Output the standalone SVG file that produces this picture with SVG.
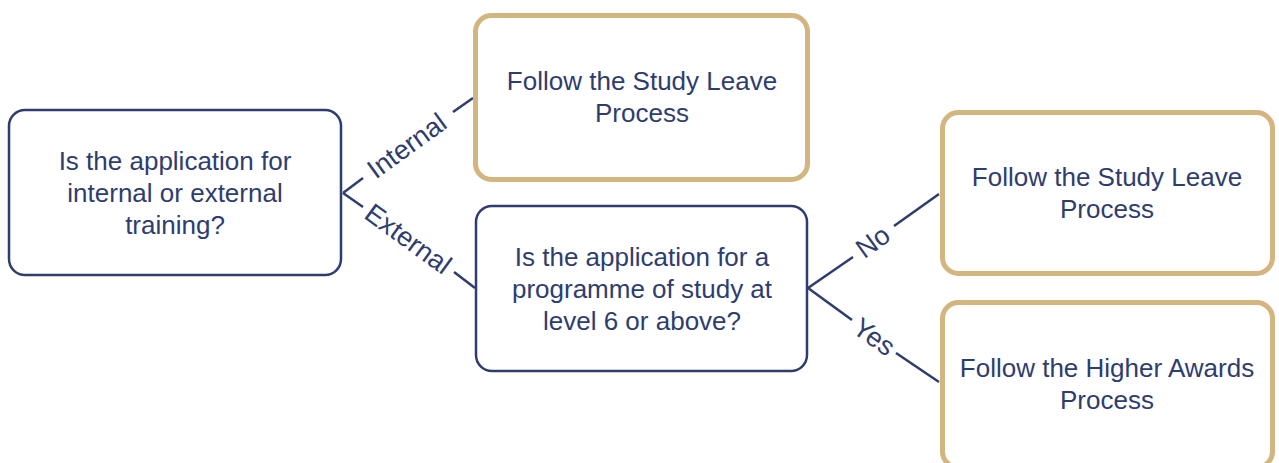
<svg xmlns="http://www.w3.org/2000/svg" width="1279" height="463" viewBox="0 0 1279 463">
<style>
.navy{fill:#fff;stroke:#2E3D6E;stroke-width:2.5}
.gold{fill:#fff;stroke:#D3B57F;stroke-width:5}
.t{font-family:"Liberation Sans",Arial,sans-serif;font-size:26px;fill:#2E3D6E;text-anchor:middle}
.lbl{font-family:"Liberation Sans",Arial,sans-serif;font-size:27px;fill:#2E3D6E;text-anchor:middle;dominant-baseline:central}
.c{stroke:#2E3D6E;stroke-width:2.5;fill:none}
</style>
<rect width="1279" height="463" fill="#fff"/>
<g id="connectors">
<path class="c" d="M343,193 L363,178 M453,112 L473,98"/>
<text class="lbl" transform="translate(407,146) rotate(-36)">Internal</text>
<path class="c" d="M343,193 L363,207 M454,272 L475,288"/>
<text class="lbl" transform="translate(408,239) rotate(36)">External</text>
<path class="c" d="M808,288 L853,257 M894,226 L939,194"/>
<text class="lbl" transform="translate(873,242) rotate(-35.7)">No</text>
<path class="c" d="M808,288 L852,320 M896,353 L939,382"/>
<text class="lbl" transform="translate(874,337) rotate(35.7)">Yes</text>
</g>
<g id="q1">
<rect class="navy" x="9" y="110" width="332" height="165" rx="16"/>
<text class="t" x="175" y="170">Is the application for</text>
<text class="t" x="175" y="202">internal or external</text>
<text class="t" x="175" y="234">training?</text>
</g>
<g id="studyLeave1">
<rect class="gold" x="475.5" y="15.5" width="332" height="164" rx="16"/>
<text class="t" x="642" y="90">Follow the Study Leave</text>
<text class="t" x="642" y="122">Process</text>
</g>
<g id="q2">
<rect class="navy" x="476" y="206" width="331" height="165" rx="16"/>
<text class="t" x="642" y="266">Is the application for a</text>
<text class="t" x="642" y="298">programme of study at</text>
<text class="t" x="642" y="330">level 6 or above?</text>
</g>
<g id="studyLeave2">
<rect class="gold" x="942.5" y="112.5" width="330" height="161" rx="16"/>
<text class="t" x="1107" y="186">Follow the Study Leave</text>
<text class="t" x="1107" y="218">Process</text>
</g>
<g id="higherAwards">
<rect class="gold" x="942.5" y="302.5" width="330" height="165" rx="16"/>
<text class="t" x="1107" y="377">Follow the Higher Awards</text>
<text class="t" x="1107" y="409">Process</text>
</g>
</svg>
